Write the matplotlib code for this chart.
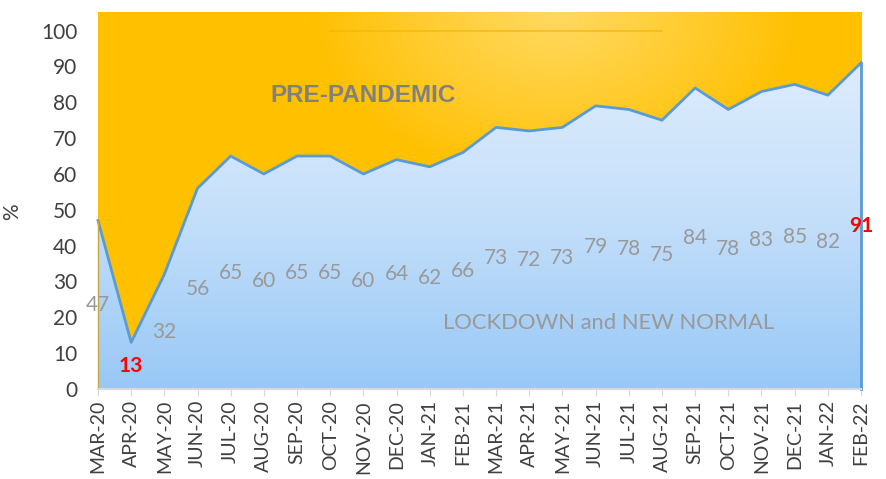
import numpy as np
import matplotlib
matplotlib.use("Agg")
import matplotlib.pyplot as plt
from matplotlib.colors import LinearSegmentedColormap

months = ["MAR-20", "APR-20", "MAY-20", "JUN-20", "JUL-20", "AUG-20", "SEP-20",
          "OCT-20", "NOV-20", "DEC-20", "JAN-21", "FEB-21", "MAR-21", "APR-21",
          "MAY-21", "JUN-21", "JUL-21", "AUG-21", "SEP-21", "OCT-21", "NOV-21",
          "DEC-21", "JAN-22", "FEB-22"]
values = [47, 13, 32, 56, 65, 60, 65, 65, 60, 64, 62, 66, 73, 72, 73, 79, 78,
          75, 84, 78, 83, 85, 82, 91]
highlight = ["APR-20", "FEB-22"]
y_ticks = [0, 10, 20, 30, 40, 50, 60, 70, 80, 90, 100]

plt.rcParams["font.family"] = ["Lato", "DejaVu Sans"]

fig = plt.figure(figsize=(8.86, 4.79), dpi=100)
ax = fig.add_axes([0.1106, 0.1879, 0.8612, 0.7871])

x = np.arange(len(months))
ytop = 105.2
ax.set_xlim(0, len(months) - 1)
ax.set_ylim(0, ytop)

# orange background with a soft radial highlight near the top middle
gx, gy = np.meshgrid(np.linspace(0, 1, 400), np.linspace(0, 1, 200))
dist = np.sqrt(((gx - 0.6) / 0.32) ** 2 + ((gy - 0.0) / 0.45) ** 2)
glow = np.clip(1 - dist, 0, 1) ** 0.9
orange = np.array([1.0, 0.753, 0.0])
light = np.array([1.0, 0.85, 0.38])
img = orange[None, None, :] * (1 - glow[..., None]) + light[None, None, :] * glow[..., None]
ax.imshow(img, extent=[0, len(months) - 1, 0, ytop], aspect="auto", zorder=0,
          origin="upper")
ax.plot([7, 17], [100, 100], color="#f2b400", lw=1.2, alpha=0.7, zorder=1)

# blue gradient under the line
blue_cmap = LinearSegmentedColormap.from_list("b", ["#98c8f6", "#c6e0fa", "#e2effc"])
poly = ax.fill_between(x, 0, values, color="none", zorder=2)
grad = np.linspace(0, 1, 256).reshape(-1, 1)
bimg = ax.imshow(grad, extent=[0, len(months) - 1, 0, 100], aspect="auto",
                 cmap=blue_cmap, origin="lower", zorder=2)
bimg.set_clip_path(poly.get_paths()[0], transform=ax.transData)
ax.set_ylim(0, ytop)

ax.plot(x, values, color="#5b9bd5", lw=2, zorder=3, clip_on=False)
ax.plot([x[-1], x[-1]], [0, values[-1]], color="#5b9bd5", lw=2, zorder=3, clip_on=False)
ax.plot([0, 0], [0, values[0]], color="#c9a93a", lw=1, zorder=3, clip_on=False)

for i, (m, v) in enumerate(zip(months, values)):
    if m in highlight:
        ax.text(i, v / 2, str(v), ha="center", va="center", fontsize=15,
                fontweight="bold", color="#ff0000", zorder=4, clip_on=False)
    else:
        ax.text(i, v / 2, str(v), ha="center", va="center", fontsize=15,
                color="#999999", zorder=4, clip_on=False)

ax.text(8.0, 82, "PRE-PANDEMIC", ha="center", va="center", fontsize=17.5,
        fontweight="bold", color="#808080", family=["Liberation Sans", "DejaVu Sans"],
        zorder=4)
ax.text(15.4, 18.4, "LOCKDOWN and NEW NORMAL", ha="center", va="center",
        fontsize=15.8, color="#999999", zorder=4)

ax.set_xticks(x)
ax.set_xticklabels(months, rotation=90, fontsize=14, color="#404040")
ax.set_yticks(y_ticks)
ax.set_yticklabels([str(t) for t in y_ticks], fontsize=15, color="#404040")
ax.tick_params(axis="y", length=0, pad=15)
ax.tick_params(axis="x", length=5, color="#d9d9d9", pad=3)
ax.set_ylabel("%", fontsize=15, color="#404040", labelpad=4)
ax.yaxis.set_label_coords(-0.1, 0.47)

for s in ["top", "right", "left"]:
    ax.spines[s].set_visible(False)
ax.spines["bottom"].set_color("#d9d9d9")
ax.spines["bottom"].set_linewidth(1.5)
ax.spines["bottom"].set_zorder(5)

fig.savefig("out.png", dpi=100)
